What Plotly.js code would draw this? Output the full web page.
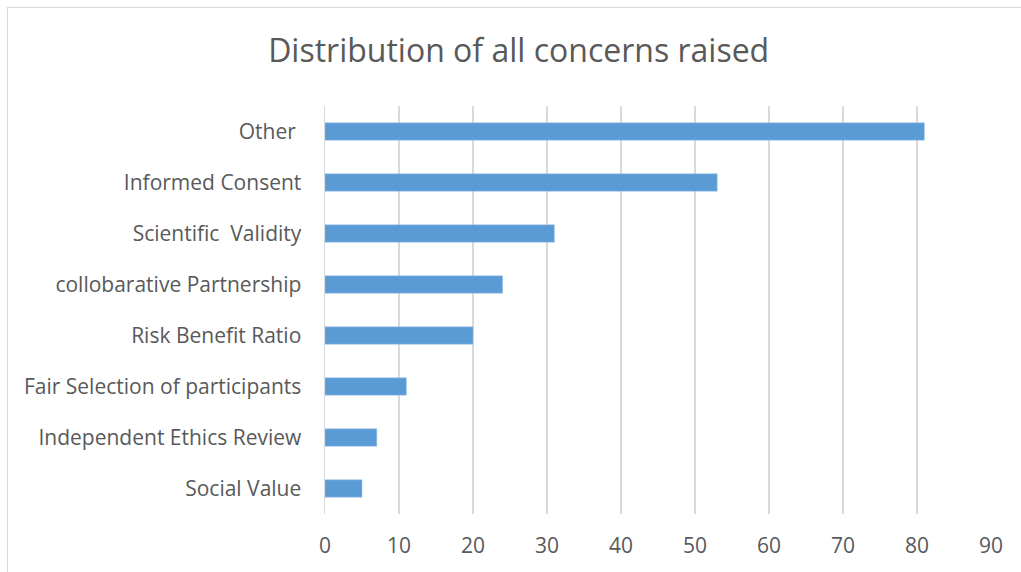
<!DOCTYPE html>
<html>
<head>
<meta charset="utf-8">
<script src="https://cdn.plot.ly/plotly-3.0.1.min.js"></script>
<style>
  html, body { margin: 0; padding: 0; background: #ffffff; overflow: hidden; }
  #wrap { position: relative; width: 1021px; height: 572px; }
  #chart { position: absolute; left: 0; top: 0; width: 1021px; height: 572px; }
  #frame { position: absolute; left: 7px; top: 7px; width: 1100px; height: 700px;
           border: 1.5px solid #d9d9d9; pointer-events: none; box-sizing: border-box; }
</style>
</head>
<body>
<div id="wrap">
  <div id="chart"></div>
  <div id="frame"></div>
</div>
<script>
const categories = [
  "Social Value",
  "Independent Ethics Review",
  "Fair Selection of participants",
  "Risk Benefit Ratio",
  "collobarative Partnership",
  "Scientific\u00a0 Validity",
  "Informed Consent",
  "Other\u00a0"
];
const counts = [5, 7, 11, 20, 24, 31, 53, 81];
const xTicks = [0, 10, 20, 30, 40, 50, 60, 70, 80, 90];
const chartTitle = "Distribution of all concerns raised";

const fontFam = "'Open Sans', 'Noto Sans', sans-serif";
const textColor = "#595959";

const trace = {
  type: "bar",
  orientation: "h",
  x: counts,
  y: categories,
  marker: { color: "#5b9bd5", line: { color: "#9dc3e6", width: 0.5 } },
  hoverinfo: "x+y"
};

const layout = {
  width: 1021,
  height: 572,
  paper_bgcolor: "#ffffff",
  plot_bgcolor: "#ffffff",
  margin: { l: 325, r: 30, t: 106, b: 58 },
  bargap: 0.66,
  showlegend: false,
  title: {
    text: chartTitle,
    font: { family: fontFam, size: 32, color: textColor },
    x: 0.508,
    xanchor: "center",
    y: 0.912,
    yanchor: "middle"
  },
  xaxis: {
    range: [0, 90],
    tickvals: xTicks,
    ticktext: xTicks.map(String),
    showgrid: true,
    gridcolor: "#d9d9d9",
    gridwidth: 1.5,
    zeroline: false,
    showline: false,
    ticks: "",
    ticklabelstandoff: 17,
    tickfont: { family: fontFam, size: 21, color: textColor },
    fixedrange: true
  },
  yaxis: {
    type: "category",
    categoryorder: "array",
    categoryarray: categories,
    showgrid: false,
    zeroline: false,
    showline: true,
    linecolor: "#d9d9d9",
    linewidth: 1.5,
    ticks: "",
    ticklabelstandoff: 18,
    tickfont: { family: fontFam, size: 21, color: textColor },
    fixedrange: true
  }
};

Plotly.newPlot("chart", [trace], layout, { displayModeBar: false, staticPlot: true });
</script>
</body>
</html>
